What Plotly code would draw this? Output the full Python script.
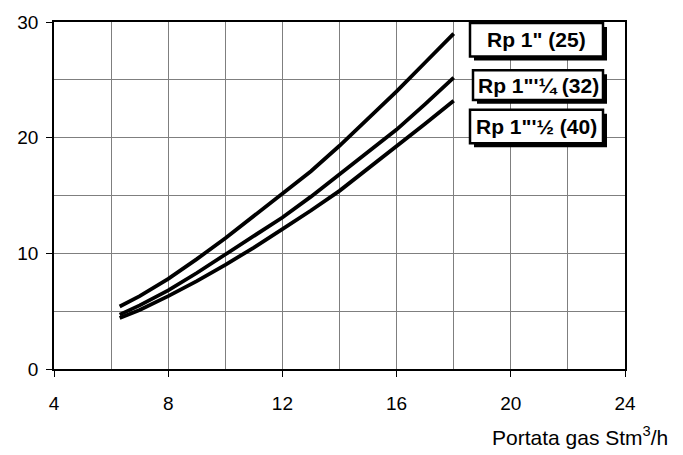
import plotly.graph_objects as go

flow_x = [6.3, 7, 8, 9, 10, 11, 12, 13, 14, 15, 16, 17, 18]
rp25 = [5.4, 6.3, 7.8, 9.5, 11.3, 13.2, 15.1, 17.1, 19.3, 21.6, 24.0, 26.5, 29.0]
rp32 = [4.7, 5.5, 6.8, 8.3, 9.9, 11.5, 13.1, 14.9, 16.8, 18.7, 20.7, 22.9, 25.2]
rp40 = [4.4, 5.1, 6.3, 7.6, 9.0, 10.5, 12.1, 13.7, 15.4, 17.3, 19.3, 21.2, 23.2]
series_names = ['Rp 1" (25)', 'Rp 1"\'¼ (32)', 'Rp 1"\'½ (40)']
x_ticks = [4, 8, 12, 16, 20, 24]
y_ticks = [0, 10, 20, 30]

FONT = "Arial, Liberation Sans, sans-serif"
fig = go.Figure()
for name, ys in zip(series_names, [rp25, rp32, rp40]):
    fig.add_trace(go.Scatter(x=flow_x, y=ys, mode="lines", name=name,
                             line=dict(color="black", width=3.8),
                             showlegend=False, hoverinfo="skip"))

fig.update_xaxes(range=[4, 24], tickvals=x_ticks, ticks="outside", ticklen=6,
                 tickcolor="black", showgrid=True, gridcolor="#7f7f7f", gridwidth=1,
                 minor=dict(dtick=2, showgrid=True, gridcolor="#7f7f7f", gridwidth=1),
                 showline=True, linecolor="black", linewidth=1.5, mirror=True,
                 zeroline=False, ticklabelstandoff=10,
                 tickfont=dict(size=19, color="black", family=FONT))
fig.update_yaxes(range=[0, 30], tickvals=y_ticks, ticks="outside", ticklen=6,
                 tickcolor="black", showgrid=True, gridcolor="#7f7f7f", gridwidth=1,
                 minor=dict(dtick=5, showgrid=True, gridcolor="#7f7f7f", gridwidth=1),
                 showline=True, linecolor="black", linewidth=1.5, mirror=True,
                 zeroline=False, ticklabelstandoff=4,
                 tickfont=dict(size=19, color="black", family=FONT))

# legend boxes (pixel -> data conversion)
x0p, x1p, y0p, y1p = 54, 625, 369, 17
def px2x(p):
    return 4 + (p - x0p) * 20 / (x1p - x0p)
def py2y(p):
    return (y0p - p) * 30 / (y0p - y1p)

boxes = [(470, 603, 18, 52), (473, 603, 66, 96), (470, 603, 106, 140)]
for (bx0, bx1, by0, by1), name in zip(boxes, series_names):
    fig.add_shape(type="rect", x0=px2x(bx0 + 4), x1=px2x(bx1 + 4), y0=py2y(by1 + 4), y1=py2y(by0 + 4),
                  fillcolor="black", line=dict(color="black", width=0), layer="above")
    fig.add_shape(type="rect", x0=px2x(bx0), x1=px2x(bx1), y0=py2y(by1), y1=py2y(by0),
                  fillcolor="white", line=dict(color="black", width=2.5), layer="above")
    fig.add_annotation(x=px2x((bx0 + bx1) / 2), y=py2y((by0 + by1) / 2), text="<b>%s</b>" % name,
                       showarrow=False, font=dict(size=21, color="black", family=FONT))

fig.add_annotation(xref="paper", yref="paper", x=(670 - 54) / 571, y=(369 - 437) / 352,
                   xanchor="right", yanchor="middle",
                   text="Portata gas Stm<sup>3</sup>/h", showarrow=False,
                   font=dict(size=21, color="black", family=FONT))

fig.update_layout(width=683, height=455, margin=dict(l=54, r=58, t=17, b=86),
                  plot_bgcolor="white", paper_bgcolor="white", font=dict(family=FONT))
fig.write_html("out.html", config={"displayModeBar": False},
               post_script="document.body.style.margin='0px';")
